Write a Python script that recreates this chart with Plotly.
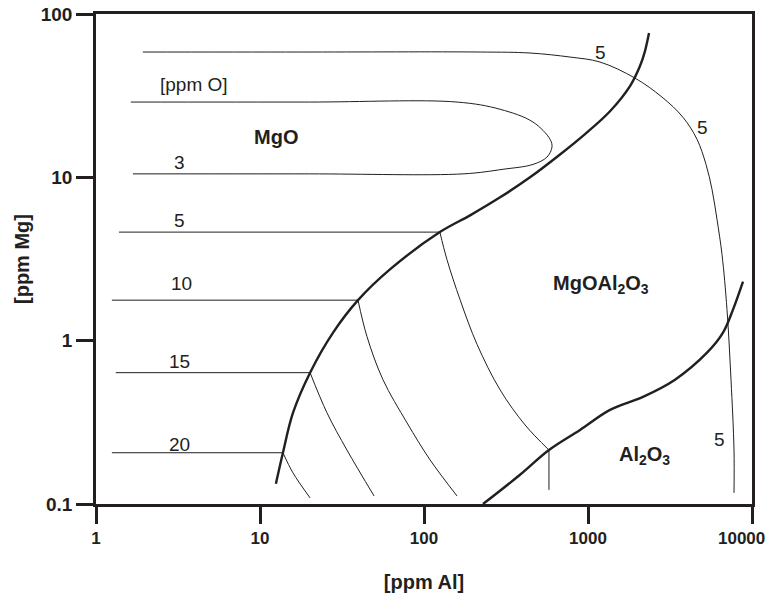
import math
import plotly.graph_objects as go

# ---- data (x = ppm Al, y = ppm Mg) ----
# phase boundary MgO | MgO·Al2O3
mgo_spinel_al = [12.5, 13.8, 15.9, 20.2, 27.9, 39.6, 62.0, 125, 191, 291, 443, 675, 959, 1362, 1804, 2075, 2226, 2355]
mgo_spinel_mg = [0.133, 0.206, 0.362, 0.637, 1.12, 1.77, 2.73, 4.62, 5.85, 7.54, 10.0, 13.8, 18.4, 25.4, 36.2, 48.0, 59.3, 76.4]

# phase boundary MgO·Al2O3 | Al2O3
spinel_al2o3_al = [229, 385, 578, 894, 1362, 2164, 3393, 5317, 6656, 7657, 8813]
spinel_al2o3_mg = [0.100, 0.151, 0.214, 0.284, 0.377, 0.453, 0.577, 0.844, 1.12, 1.55, 2.30]

# iso-oxygen contour 5 ppm (outer, big loop)
o5_outer_al = [1.93, 17.5, 220, 443, 777, 1184, 1935, 2827, 3796, 4620, 5243, 5704, 6117, 6563, 7040, 7447, 7767, 7767]
o5_outer_mg = [58.5, 58.5, 58.5, 57.7, 54.5, 50.8, 40.5, 31.0, 23.3, 17.1, 12.0, 8.44, 5.53, 3.37, 1.55, 0.577, 0.214, 0.117]

# iso-oxygen contour 3 ppm (closed tongue in MgO field)
o3_al = [1.63, 20, 159, 291, 462, 587, 603, 562, 462, 303, 173, 20, 1.68]
o3_mg = [28.9, 28.9, 28.9, 26.1, 21.8, 17.1, 15.3, 13.3, 12.0, 11.2, 10.5, 10.5, 10.5]

# iso-oxygen contours in the MgO field (horizontal)
o5_mgo_al, o5_mgo_mg = [1.38, 125], [4.62, 4.62]
o10_mgo_al, o10_mgo_mg = [1.25, 39.6], [1.77, 1.77]
o15_mgo_al, o15_mgo_mg = [1.32, 20.2], [0.637, 0.637]
o20_mgo_al, o20_mgo_mg = [1.25, 13.8], [0.206, 0.206]

# iso-oxygen contours in the MgO·Al2O3 field
o5_sp_al = [125, 138, 166, 211, 291, 413, 578]
o5_sp_mg = [4.62, 3.14, 1.78, 0.945, 0.50, 0.305, 0.214]
o10_sp_al = [39.6, 44.9, 56.2, 78.8, 109, 159]
o10_sp_mg = [1.77, 1.06, 0.577, 0.314, 0.186, 0.112]
o15_sp_al = [20.2, 25.6, 33.9, 49.6]
o15_sp_mg = [0.637, 0.362, 0.214, 0.112]
o20_sp_al = [13.8, 15.9, 20.2]
o20_sp_mg = [0.206, 0.155, 0.109]

# iso-oxygen contour 5 ppm in the Al2O3 field
o5_al2o3_al = [578, 578]
o5_al2o3_mg = [0.214, 0.122]

x_ticks = [1, 10, 100, 1000, 10000]
x_tick_labels = ["1", "10", "100", "1000", "10000"]
y_ticks = [0.1, 1, 10, 100]
y_tick_labels = ["0.1", "1", "10", "100"]

INK = "#231f20"
FONT = "Liberation Sans, Arial, Helvetica, sans-serif"

fig = go.Figure()

def add_line(xs, ys, width, shape="spline"):
    fig.add_trace(go.Scatter(x=xs, y=ys, mode="lines",
                             line=dict(color=INK, width=width, shape=shape, smoothing=1.0),
                             hoverinfo="skip"))

# thick phase boundaries
add_line(mgo_spinel_al, mgo_spinel_mg, 2.4)
add_line(spinel_al2o3_al, spinel_al2o3_mg, 2.4)

# thin iso-oxygen lines
add_line(o5_outer_al, o5_outer_mg, 1.0)
add_line(o3_al, o3_mg, 1.0)
for xs, ys in [(o5_mgo_al, o5_mgo_mg), (o10_mgo_al, o10_mgo_mg),
               (o15_mgo_al, o15_mgo_mg), (o20_mgo_al, o20_mgo_mg),
               (o5_al2o3_al, o5_al2o3_mg)]:
    add_line(xs, ys, 1.0, shape="linear")
for xs, ys in [(o5_sp_al, o5_sp_mg), (o10_sp_al, o10_sp_mg),
               (o15_sp_al, o15_sp_mg), (o20_sp_al, o20_sp_mg)]:
    add_line(xs, ys, 1.0)

def label(text, x, y, size=19, bold=False):
    fig.add_annotation(x=math.log10(x), y=math.log10(y), xref="x", yref="y",
                       text=text, showarrow=False, xanchor="center", yanchor="middle",
                       font=dict(family=FONT, size=size, color=INK,
                                 weight="bold" if bold else "normal"))

label("[ppm O]", 3.96, 37.2)
label("3", 3.21, 12.4)
label("5", 3.21, 5.45)
label("10", 3.30, 2.24)
label("15", 3.21, 0.743)
label("20", 3.21, 0.233)
label("5", 1200, 58.5)
label("5", 4957, 20.3)
label("5", 6294, 0.247)
label("MgO", 12.5, 17.6, size=20, bold=True)
label("MgOAl<sub>2</sub>O<sub>3</sub>", 1200, 2.21, size=20, bold=True)
label("Al<sub>2</sub>O<sub>3</sub>", 2226, 0.197, size=20, bold=True)

# last x tick label sits flush against the right edge in the reference
tick_font = dict(family=FONT, size=17, color=INK, weight="bold")
fig.add_annotation(x=math.log10(x_ticks[-1]), y=0, xref="x", yref="paper",
                   text=x_tick_labels[-1], showarrow=False,
                   xanchor="right", yanchor="middle", xshift=15, yshift=-34,
                   font=tick_font)
shown_x_labels = x_tick_labels[:-1] + [""]

axis_common = dict(type="log", showgrid=False, zeroline=False,
                   showline=True, linewidth=2.5, linecolor=INK, mirror=True,
                   ticks="outside", ticklen=17, tickwidth=2.5, tickcolor=INK,
                   automargin=False)

fig.update_xaxes(range=[0, 4], tickvals=x_ticks, ticktext=shown_x_labels,
                 tickfont=tick_font,
                 title=dict(text="[ppm Al]", standoff=28,
                            font=dict(family=FONT, size=20, color=INK, weight="bold")),
                 **axis_common)
fig.update_yaxes(range=[-1, 2], tickvals=y_ticks, ticktext=y_tick_labels,
                 tickfont=dict(family=FONT, size=19, color=INK, weight="bold"),
                 title=dict(text="[ppm Mg]", standoff=6,
                            font=dict(family=FONT, size=20, color=INK, weight="bold")),
                 **axis_common)

fig.update_layout(width=768, height=597,
                  margin=dict(l=96, r=16, t=14, b=93),
                  plot_bgcolor="white", paper_bgcolor="white",
                  showlegend=False, font=dict(family=FONT, color=INK))

fig.write_html("out.html")
